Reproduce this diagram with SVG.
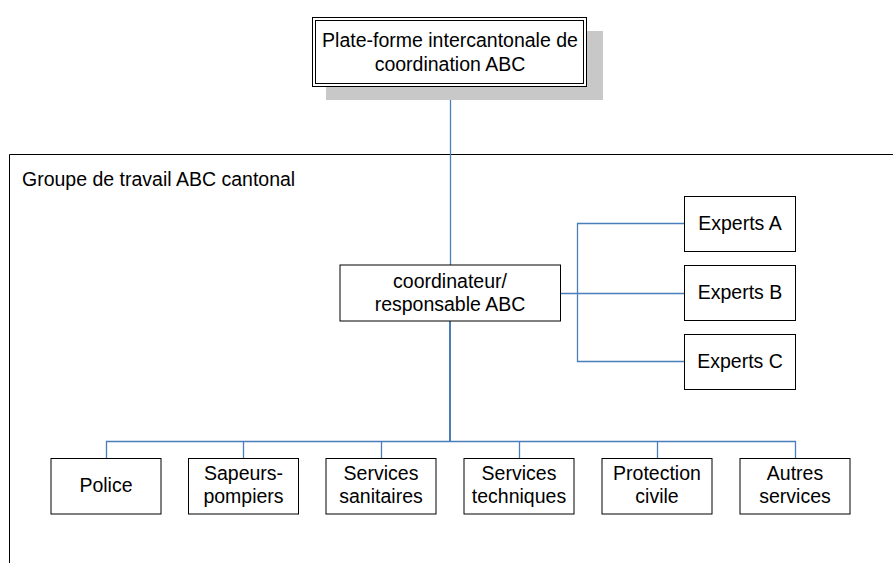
<svg xmlns="http://www.w3.org/2000/svg" width="893" height="563" viewBox="0 0 893 563">
<style>
text{font-family:"Liberation Sans",Arial,sans-serif;font-size:19.5px;fill:#000;text-anchor:middle}
.box{fill:#fff;stroke:#000;stroke-width:1}
.con{fill:none;stroke:#4a7ebb;stroke-width:1.3}
</style>
<rect width="893" height="563" fill="#fff"/>
<g id="groupe">
<path d="M9.5,563 V154.5 H893" fill="none" stroke="#000" stroke-width="1"/>
<text x="22" y="186" style="text-anchor:start">Groupe de travail ABC cantonal</text>
</g>
<g id="connectors">
<path class="con" d="M450.5,87 V265"/>
<path class="con" d="M450,321 V441.5" style="stroke-width:2"/>
<path class="con" d="M106.5,458 V441.5 H795.5 V458 M243.5,441.5 V458 M381.5,441.5 V458 M519.5,441.5 V458 M657.5,441.5 V458"/>
<path class="con" d="M560,293.5 H684 M684,223.5 H577.5 V361.5 H684"/>
</g>
<g id="plateforme">
<rect x="326" y="31" width="277" height="69" fill="#c8c8c8"/>
<rect class="box" x="312.5" y="17.5" width="274" height="69"/>
<rect x="315.5" y="20.5" width="268" height="63" fill="none" stroke="#000" stroke-width="1"/>
<text x="450" y="47">Plate-forme intercantonale de</text>
<text x="450" y="71">coordination ABC</text>
</g>
<g id="coordinateur">
<rect class="box" x="340" y="265" width="220.5" height="56"/>
<text x="450" y="288">coordinateur/</text>
<text x="450" y="311">responsable ABC</text>
</g>
<g id="expertsA">
<rect class="box" x="684.5" y="196.5" width="111" height="55"/>
<text x="740" y="230">Experts A</text>
</g>
<g id="expertsB">
<rect class="box" x="684.5" y="265.5" width="111" height="55"/>
<text x="740" y="299">Experts B</text>
</g>
<g id="expertsC">
<rect class="box" x="684.5" y="334.5" width="111" height="55"/>
<text x="740" y="368">Experts C</text>
</g>
<g id="police">
<rect class="box" x="51" y="458.5" width="110" height="55.5"/>
<text x="106" y="492">Police</text>
</g>
<g id="sapeurs">
<rect class="box" x="188.5" y="458.5" width="110" height="55.5"/>
<text x="243.5" y="480">Sapeurs-</text>
<text x="243.5" y="503">pompiers</text>
</g>
<g id="sanitaires">
<rect class="box" x="326" y="458.5" width="110" height="55.5"/>
<text x="381" y="480">Services</text>
<text x="381" y="503">sanitaires</text>
</g>
<g id="techniques">
<rect class="box" x="464" y="458.5" width="110" height="55.5"/>
<text x="519" y="480">Services</text>
<text x="519" y="503">techniques</text>
</g>
<g id="protection">
<rect class="box" x="602" y="458.5" width="110" height="55.5"/>
<text x="657" y="480">Protection</text>
<text x="657" y="503">civile</text>
</g>
<g id="autres">
<rect class="box" x="740" y="458.5" width="110" height="55.5"/>
<text x="795" y="480">Autres</text>
<text x="795" y="503">services</text>
</g>
</svg>
